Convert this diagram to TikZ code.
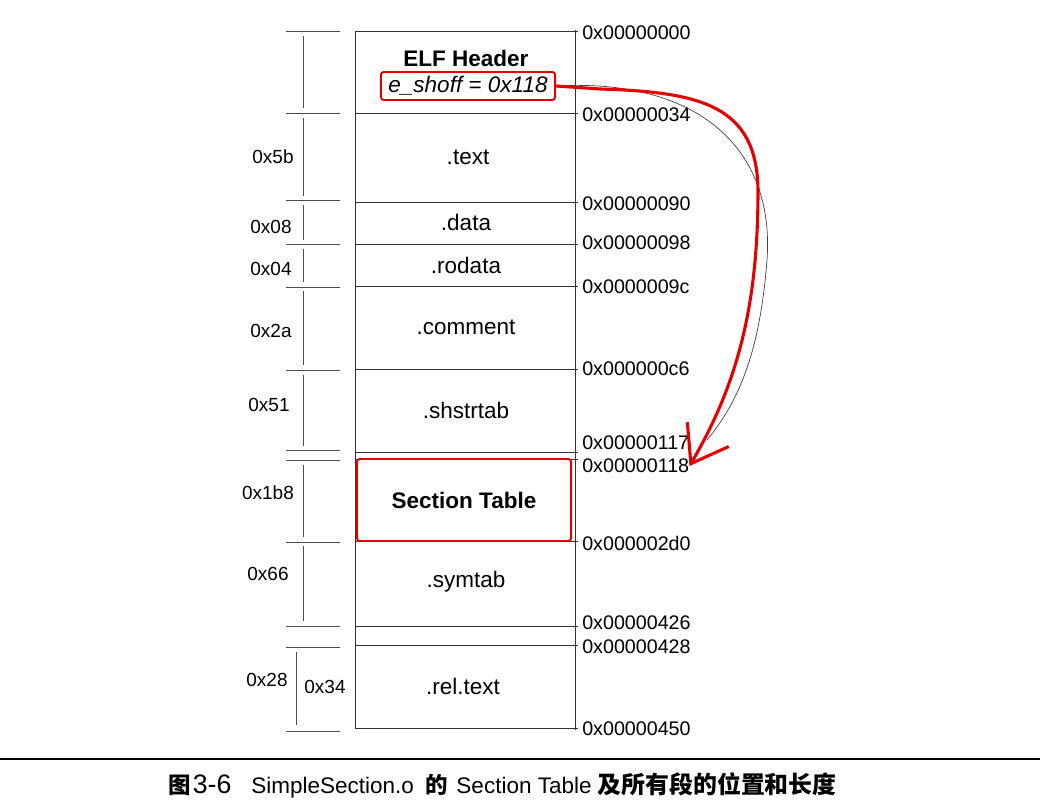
\documentclass[tikz,border=0pt]{standalone}
\usepackage{fontspec}
\setmainfont{Liberation Sans}
\newfontfamily\cjk{Noto Sans CJK SC}
\usetikzlibrary{arrows.meta}

\begin{document}
\begin{tikzpicture}[x=0.025cm, y=-0.025cm,
  frame/.style={draw=black!80, line width=0.7pt},
  dim/.style={draw=black!70, line width=0.6pt},
  sect/.style={font=\fontsize{16}{19}\selectfont},
  bold/.style={font=\fontsize{16}{19}\selectfont\bfseries},
  addr/.style={anchor=west, inner sep=0pt, font=\fontsize{14}{17}\selectfont},
  len/.style={inner sep=0pt, font=\fontsize{13.5}{16}\selectfont},
  redbox/.style={draw=red!90!black, line width=1.4pt, rounded corners=2pt}]
\useasboundingbox (0,0) rectangle (1048,808);

% Column of sections
\draw[frame] (355,31) -- (355,728);
\draw[frame] (575,30) -- (575,730);
\foreach \y/\ly/\addr [count=\i] in {31/33/0x00000000, 113/115/0x00000034,
    202/204/0x00000090, 244/243/0x00000098, 286/287/0x0000009c,
    369/369/0x000000c6, 452/443/0x00000117, 459/466/0x00000118,
    541/543/0x000002d0, 626/623/0x00000426, 645/647/0x00000428,
    728/729/0x00000450}{
  \draw[frame] (355,\y) -- (578,\y);
  \node[addr] (a\i) at (582,\ly) {\addr};
}

% Section names
\node[bold] (elf) at (466,58) {ELF Header};
\node[redbox, sect, minimum width=4.35cm, minimum height=0.7cm, inner sep=0pt] (shoff) at (468,86) {\itshape e\_shoff = 0x118};
\node[sect] (text) at (468,157) {.text};
\node[sect] (data) at (466,222) {.data};
\node[sect] (rodata) at (466,265) {.rodata};
\node[sect] (comment) at (466,327) {.comment};
\node[sect] (shstrtab) at (466,410) {.shstrtab};
\node[redbox, bold, minimum width=5.35cm, minimum height=2.05cm, fill=white] (sectab) at (464,500) {Section Table};
\node[sect] (symtab) at (466,582) {.symtab};
\node[sect] (reltext) at (463,686) {.rel.text};

% Lengths on the left
\foreach \y in {31,113,200,244,287,370,450,460,542,626,647,731}
  \draw[dim] (286,\y) -- (340,\y);
\foreach \a/\b in {36/108, 118/196, 205/240, 249/282, 291/365, 375/446, 465/537, 546/621}
  \draw[dim] (303,\a) -- (303,\b);
\draw[dim] (296,652) -- (296,725);
\foreach \x/\y/\t [count=\i] in {273/157/0x5b, 271/227/0x08, 271/269/0x04,
    271/331/0x2a, 269/405/0x51, 268/493/0x1b8, 268/574/0x66,
    267/680/0x28, 325/687/0x34}
  \node[len] (l\i) at (\x,\y) {\t};

% Pointer to the section table
\draw[black!75, line width=0.5pt] (shoff.east) .. controls (700,78) and (775,150) .. (767,260) .. controls (760,350) and (740,400) .. (707,440);
\draw[red!90!black, line width=2.2pt, line cap=round, -{Straight Barb[length=8.5mm, width=12mm]}] (shoff.east) -- (600,89) .. controls (700,92) and (757,105) .. (758,190) .. controls (758,300) and (740,380) .. (a8.east);

% Caption
\draw[black, line width=1.6pt] (0,759) -- (1040,759);
\node[anchor=west, inner sep=0pt, font=\fontsize{16}{19}\selectfont] (caption) at (168,785) {{\cjk\bfseries 图}\hspace{0.05cm}{\fontsize{19}{20}\selectfont 3-6}\hspace{0.5cm}SimpleSection.o\hspace{0.3cm}{\cjk\bfseries 的}\hspace{0.2cm}Section Table\hspace{0.15cm}{\cjk\bfseries\fontsize{17}{20}\selectfont 及所有段的位置和长度}};
\end{tikzpicture}
\end{document}
